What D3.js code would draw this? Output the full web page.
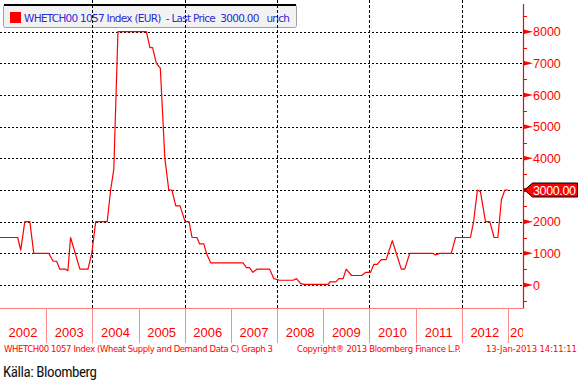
<!DOCTYPE html>
<html><head><meta charset="utf-8">
<script src="https://cdn.jsdelivr.net/npm/d3@7"></script>
<style>body{margin:0;background:#fff}svg{display:block}</style>
</head><body>
<svg id="c" width="580" height="380"></svg>
<script>
// ---- data ----
const dates = ["2002-01-01","2002-05-21","2002-06-14","2002-07-16","2002-08-25","2002-09-25","2003-01-22","2003-02-25","2003-03-25","2003-04-19","2003-06-04","2003-06-22","2003-07-13","2003-09-25","2003-11-28","2003-12-28","2004-01-28","2004-04-28","2004-05-25","2004-06-19","2004-07-22","2005-03-04","2005-04-01","2005-04-22","2005-05-22","2005-06-22","2005-07-28","2005-08-28","2005-09-22","2005-10-22","2005-11-25","2006-01-04","2006-02-04","2006-02-28","2006-04-07","2006-04-28","2006-06-01","2006-06-22","2006-07-25","2007-04-07","2007-05-04","2007-05-28","2007-06-25","2007-07-25","2007-11-04","2007-12-07","2008-01-22","2008-05-07","2008-06-04","2008-07-04","2008-08-01","2009-02-10","2009-02-22","2009-04-10","2009-05-04","2009-06-07","2009-07-01","2009-08-13","2009-11-01","2009-12-04","2010-01-10","2010-02-04","2010-03-04","2010-04-04","2010-05-13","2010-07-01","2010-09-10","2010-10-07","2010-11-16","2011-05-16","2011-06-07","2011-07-10","2011-10-10","2011-11-13","2012-03-10","2012-04-04","2012-05-04","2012-05-28","2012-07-07","2012-08-10","2012-09-13","2012-10-13","2012-11-10","2012-12-07","2013-01-04"];
const values = [1500,1500,1100,2000,2000,1000,1000,750,750,500,500,450,1500,500,500,1000,2000,2000,3000,3650,8000,8000,7500,7500,7000,6850,4000,3000,3000,2500,2500,2000,2000,1500,1500,1300,1300,1000,700,700,550,550,400,500,500,200,150,150,200,50,20,20,100,100,200,200,500,300,300,400,400,650,650,800,800,1400,500,500,1000,1000,950,1000,1000,1500,1500,2000,3000,2950,2000,2000,1500,1500,2700,3000,3000];
const yTicks = [0,1000,2000,3000,4000,5000,6000,7000,8000];
const yMinorTicks = [-500,500,1500,2500,3500,4500,5500,6500,7500,8500];
const yearLabels = ["2002","2003","2004","2005","2006","2007","2008","2009","2010","2011","2012","2013"];
const gridYears = ["2004","2006","2008","2010","2012"];
const lastPrice = 3000;
const legendText = "WHETCH00 1057 Index (EUR)  - Last Price  3000.00   unch";
const footLeft = "WHETCH00 1057 Index (Wheat Supply and Demand Data C) Graph 3";
const footMid = "Copyright\u00AE 2013 Bloomberg Finance L.P.";
const footRight = "13-Jan-2013 14:11:11";
const source = "Källa: Bloomberg";

// ---- chart ----
const svg = d3.select("#c");
const axisX = 523, plotBottom = 308;
const parse = d3.utcParse("%Y-%m-%d");
const x = d3.scaleUtc().domain([Date.UTC(2002,0,1), Date.UTC(2013,0,1)]).range([0, 508]);
const y = d3.scaleLinear().domain([0, 8000]).range([285, 31.7]);
const red = "#ff0000";

const defs = svg.append("defs");
defs.append("clipPath").attr("id","pc")
  .append("rect").attr("x",0).attr("y",0).attr("width",axisX).attr("height",plotBottom);
defs.append("clipPath").attr("id","xc")
  .append("rect").attr("x",0).attr("y",plotBottom).attr("width",axisX).attr("height",40);

// legend box
const lg = svg.append("g");
lg.append("rect").attr("x",3.5).attr("y",4.5).attr("width",293).attr("height",23).attr("rx",2)
  .attr("fill","#f2f2f2").attr("stroke","#a0a0a0");
lg.append("line").attr("x1",4).attr("x2",296).attr("y1",5).attr("y2",5).attr("stroke","#000").attr("stroke-width",2);

// gridlines
const grid = svg.append("g").attr("clip-path","url(#pc)");
grid.selectAll("line.h").data(yTicks).join("line").attr("class","h")
  .attr("x1",0).attr("x2",axisX).attr("y1",d=>Math.round(y(d))+0.5).attr("y2",d=>Math.round(y(d))+0.5)
  .attr("stroke","#000").attr("stroke-dasharray","2,2");
grid.selectAll("line.v").data(gridYears).join("line").attr("class","v")
  .attr("x1",d=>Math.round(x(Date.UTC(+d,0,1)))+0.5).attr("x2",d=>Math.round(x(Date.UTC(+d,0,1)))+0.5)
  .attr("y1",0).attr("y2",plotBottom)
  .attr("stroke","#000").attr("stroke-dasharray","3,2");

// legend content
lg.append("rect").attr("x",10).attr("y",12).attr("width",11).attr("height",11).attr("fill",red);
lg.append("text").attr("x",24).attr("y",21.5).text(legendText)
  .attr("font-family","DejaVu Sans, Verdana, sans-serif").attr("font-size",10.5)
  .attr("fill","#2a2ad8").attr("textLength",266).attr("xml:space","preserve");

// line
const line = d3.line().x(d=>x(d.date)).y(d=>y(d.v));
const series = dates.map((d,i)=>({date:parse(d), v:values[i]}));
svg.append("path").datum(series).attr("clip-path","url(#pc)")
  .attr("d",line).attr("fill","none").attr("stroke",red).attr("stroke-width",1.2).attr("stroke-linejoin","round");

// right axis
const ra = svg.append("g");
ra.append("line").attr("x1",axisX+0.5).attr("x2",axisX+0.5).attr("y1",4).attr("y2",plotBottom+0.5)
  .attr("stroke",red).attr("stroke-width",1.2);
ra.selectAll("line.mt").data(yMinorTicks).join("line").attr("class","mt")
  .attr("x1",axisX).attr("x2",axisX+4).attr("y1",d=>Math.round(y(d))+0.5).attr("y2",d=>Math.round(y(d))+0.5)
  .attr("stroke",red);
ra.selectAll("path.tri").data(yTicks).join("path").attr("class","tri")
  .attr("d",d=>{const yy=y(d);return `M${axisX},${yy-2.5}L${axisX+10},${yy}L${axisX},${yy+2.5}Z`;})
  .attr("fill",red);
// the label at the last-price level is hidden under the price tag
ra.selectAll("text").data(yTicks.filter(d=>d!==lastPrice)).join("text")
  .attr("x",axisX+10).attr("y",d=>y(d)).attr("dy","0.36em").text(d=>d)
  .attr("font-family","Liberation Sans, Arial, sans-serif").attr("font-size",12.5).attr("fill",red);

// last price tag
const ty = y(lastPrice);
svg.append("path")
  .attr("d",`M${axisX+1.5},${ty}L${axisX+9.5},${ty-7}L577.5,${ty-7}L577.5,${ty+7}L${axisX+9.5},${ty+7}Z`)
  .attr("fill",red).attr("stroke","#000").attr("stroke-width",1);
svg.append("text").attr("x",533).attr("y",ty).attr("dy","0.36em").text(d3.format(".2f")(lastPrice))
  .attr("font-family","Liberation Sans, Arial, sans-serif").attr("font-size",12.5).attr("fill","#fff")
  .attr("textLength",43);

// x axis
const xa = svg.append("g");
xa.append("line").attr("x1",0).attr("x2",axisX).attr("y1",plotBottom+0.5).attr("y2",plotBottom+0.5)
  .attr("stroke","#ff8080");
const yearTicks = yearLabels.slice(1).map(s=>Date.UTC(+s,0,1));
xa.selectAll("line.yt").data(yearTicks).join("line").attr("class","yt")
  .attr("x1",d=>Math.round(x(d))+0.5).attr("x2",d=>Math.round(x(d))+0.5)
  .attr("y1",plotBottom).attr("y2",343).attr("stroke","#ff8a8a");
xa.append("g").attr("clip-path","url(#xc)").selectAll("text").data(yearLabels).join("text")
  .attr("x",(d,i)=> i<yearLabels.length-1 ? (x(Date.UTC(+d,0,1))+x(Date.UTC(+d+1,0,1)))/2 : x(Date.UTC(+d,0,1))+2)
  .attr("text-anchor",(d,i)=> i<yearLabels.length-1 ? "middle" : "start")
  .attr("y",337).text(d=>d)
  .attr("font-family","Liberation Sans, Arial, sans-serif").attr("font-size",13).attr("fill",red);

// footer
const ff = "DejaVu Sans, Verdana, sans-serif";
svg.append("text").attr("x",4).attr("y",352).text(footLeft).attr("font-family",ff).attr("font-size",8.5)
  .attr("fill",red).attr("textLength",269);
svg.append("text").attr("x",297).attr("y",352).text(footMid).attr("font-family",ff).attr("font-size",8.5)
  .attr("fill",red).attr("textLength",164);
svg.append("text").attr("x",486).attr("y",352).text(footRight).attr("font-family",ff).attr("font-size",8.5)
  .attr("fill",red).attr("textLength",91);

svg.append("text").attr("x",3).attr("y",377).text(source)
  .attr("font-family","Liberation Sans Narrow, Arial Narrow, Roboto Condensed, sans-serif").attr("font-size",15)
  .attr("fill","#111").attr("textLength",94);
</script>
</body></html>
